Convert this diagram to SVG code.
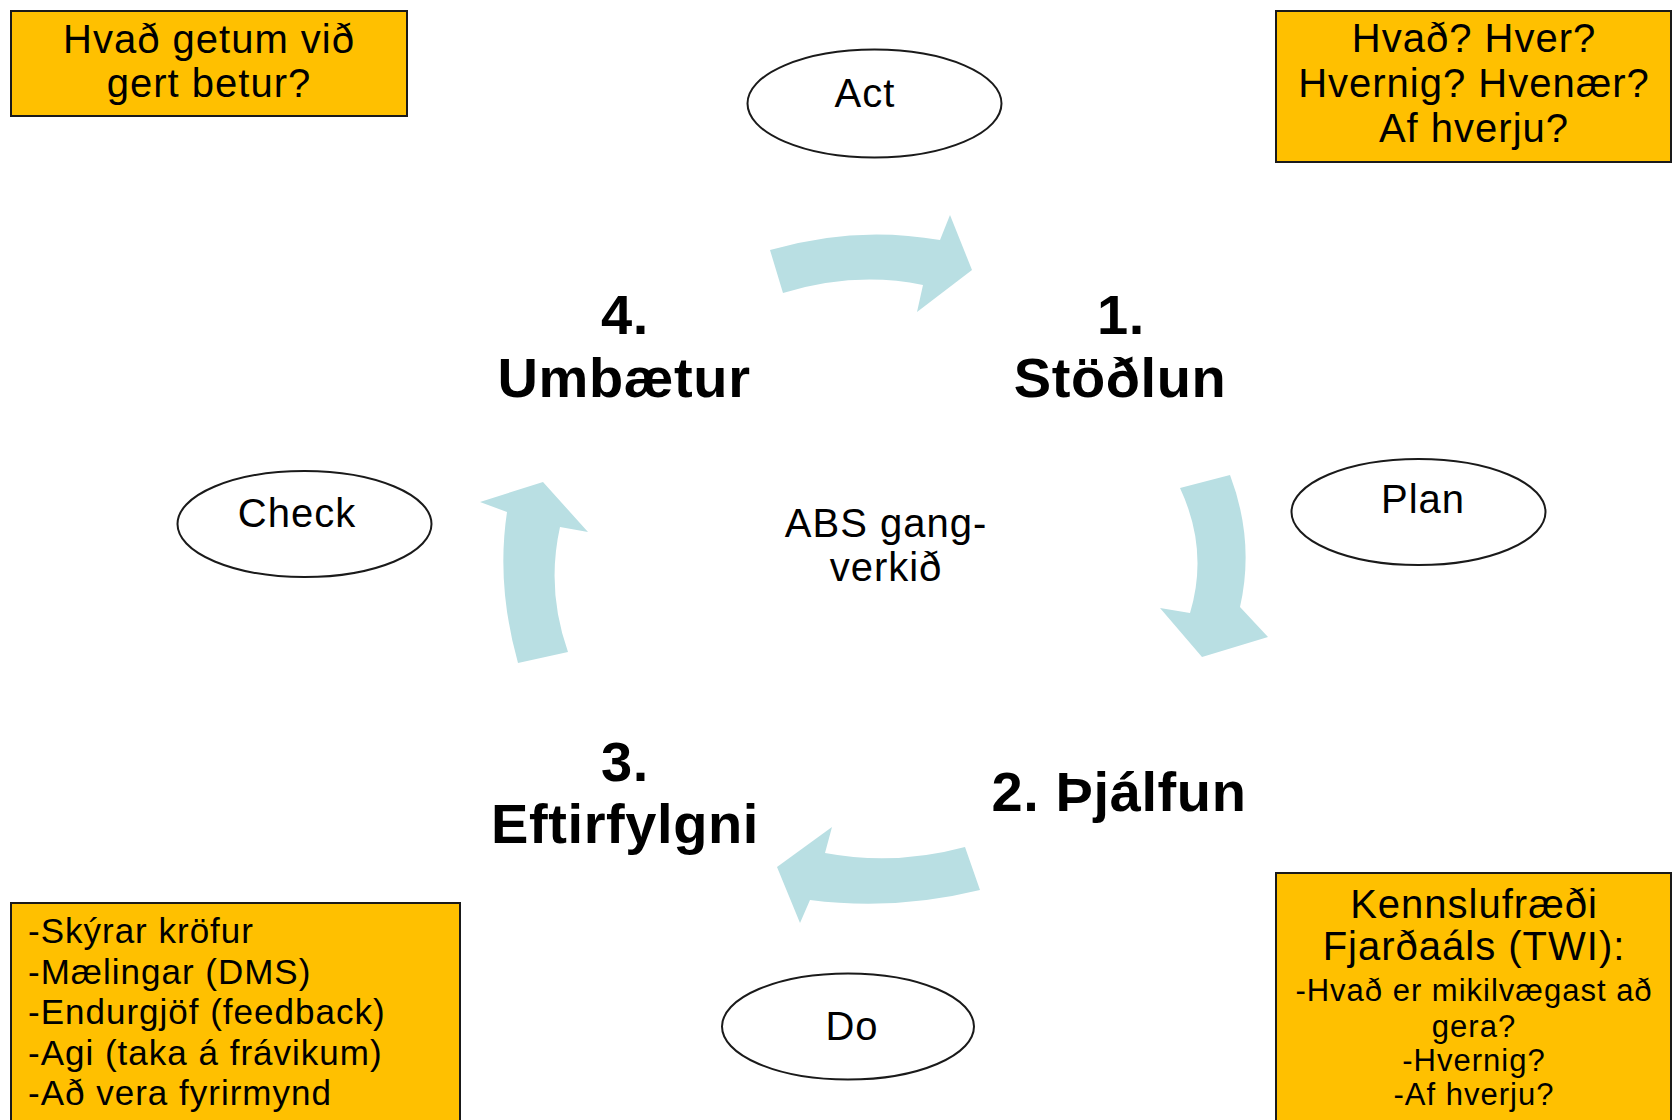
<svg xmlns="http://www.w3.org/2000/svg" width="1673" height="1120" viewBox="0 0 1673 1120">
<style>
.box{fill:#FFC000;stroke:#1a1a1a;stroke-width:2}
.ell{fill:#ffffff;stroke:#1a1a1a;stroke-width:2}
.arr{fill:#B9DFE3;stroke:none}
.t{font-family:"Liberation Sans",Arial,sans-serif;fill:#000;letter-spacing:1px}
.big{font-family:"Liberation Sans",Arial,sans-serif;font-weight:bold;font-size:56px;fill:#000;text-anchor:middle;letter-spacing:0.6px}
.c{text-anchor:middle}
</style>
<rect width="1673" height="1120" fill="#ffffff"/>
<g id="connectors">
<path class="arr" d="M770,250 Q855,225 940,240 L950,215 L972,270 L917,312 L923,285 Q855,271 783,293 Z"/>
<path class="arr" d="M1180,488 L1230,475 Q1255,541 1240,607 L1268,637 L1202,657 L1160,608 L1190,613 Q1209,550 1180,488 Z"/>
<path class="arr" d="M965,847 L980,890 Q895,911 810,900 L800,923 L777,867 L832,827 L825,853 Q895,866 965,847 Z"/>
<path class="arr" d="M518,663 L568,652 Q546,590 560,527 L588,532 L543,482 L480,502 L507,512 Q496,585 518,663 Z"/>
</g>
<g id="note-improve">
<rect class="box" x="11" y="11" width="396" height="105"/>
<text class="t c" font-size="40" x="209" y="53">Hvað getum við</text>
<text class="t c" font-size="40" x="209" y="97">gert betur?</text>
</g>
<g id="note-questions">
<rect class="box" x="1276" y="11" width="395" height="151"/>
<text class="t c" font-size="40" x="1474" y="52">Hvað? Hver?</text>
<text class="t c" font-size="40" x="1474" y="97">Hvernig? Hvenær?</text>
<text class="t c" font-size="40" x="1474" y="142">Af hverju?</text>
</g>
<g id="note-followup">
<rect class="box" x="11" y="903" width="449" height="230"/>
<text class="t" font-size="35" x="28" y="943">-Skýrar kröfur</text>
<text class="t" font-size="35" x="28" y="984">-Mælingar (DMS)</text>
<text class="t" font-size="35" x="28" y="1024">-Endurgjöf (feedback)</text>
<text class="t" font-size="35" x="28" y="1065">-Agi (taka á frávikum)</text>
<text class="t" font-size="35" x="28" y="1105">-Að vera fyrirmynd</text>
</g>
<g id="note-twi">
<rect class="box" x="1276" y="873" width="395" height="260"/>
<text class="t c" font-size="40" x="1474" y="918">Kennslufræði</text>
<text class="t c" font-size="40" x="1474" y="960">Fjarðaáls (TWI):</text>
<text class="t c" font-size="31" x="1474" y="1001">-Hvað er mikilvægast að</text>
<text class="t c" font-size="31" x="1474" y="1037">gera?</text>
<text class="t c" font-size="31" x="1474" y="1071">-Hvernig?</text>
<text class="t c" font-size="31" x="1474" y="1105">-Af hverju?</text>
</g>
<g id="act">
<ellipse class="ell" cx="874.5" cy="103.5" rx="127" ry="54"/>
<text class="t c" font-size="40" x="865" y="107">Act</text>
</g>
<g id="plan">
<ellipse class="ell" cx="1418.5" cy="512" rx="127" ry="53"/>
<text class="t c" font-size="40" x="1423" y="513">Plan</text>
</g>
<g id="check">
<ellipse class="ell" cx="304.5" cy="524" rx="127" ry="53"/>
<text class="t c" font-size="40" x="297" y="527">Check</text>
</g>
<g id="do">
<ellipse class="ell" cx="848" cy="1026.5" rx="126" ry="53"/>
<text class="t c" font-size="40" x="852" y="1040">Do</text>
</g>
<g id="center">
<text class="t c" font-size="40" x="886" y="537">ABS gang-</text>
<text class="t c" font-size="40" x="886" y="581">verkið</text>
</g>
<g id="step1">
<text class="big" x="1121" y="334">1.</text>
<text class="big" x="1120" y="397">Stöðlun</text>
</g>
<g id="step2">
<text class="big" x="1119" y="811">2. Þjálfun</text>
</g>
<g id="step3">
<text class="big" x="625" y="781">3.</text>
<text class="big" x="625" y="843">Eftirfylgni</text>
</g>
<g id="step4">
<text class="big" x="625" y="334">4.</text>
<text class="big" x="624" y="397">Umbætur</text>
</g>
</svg>
